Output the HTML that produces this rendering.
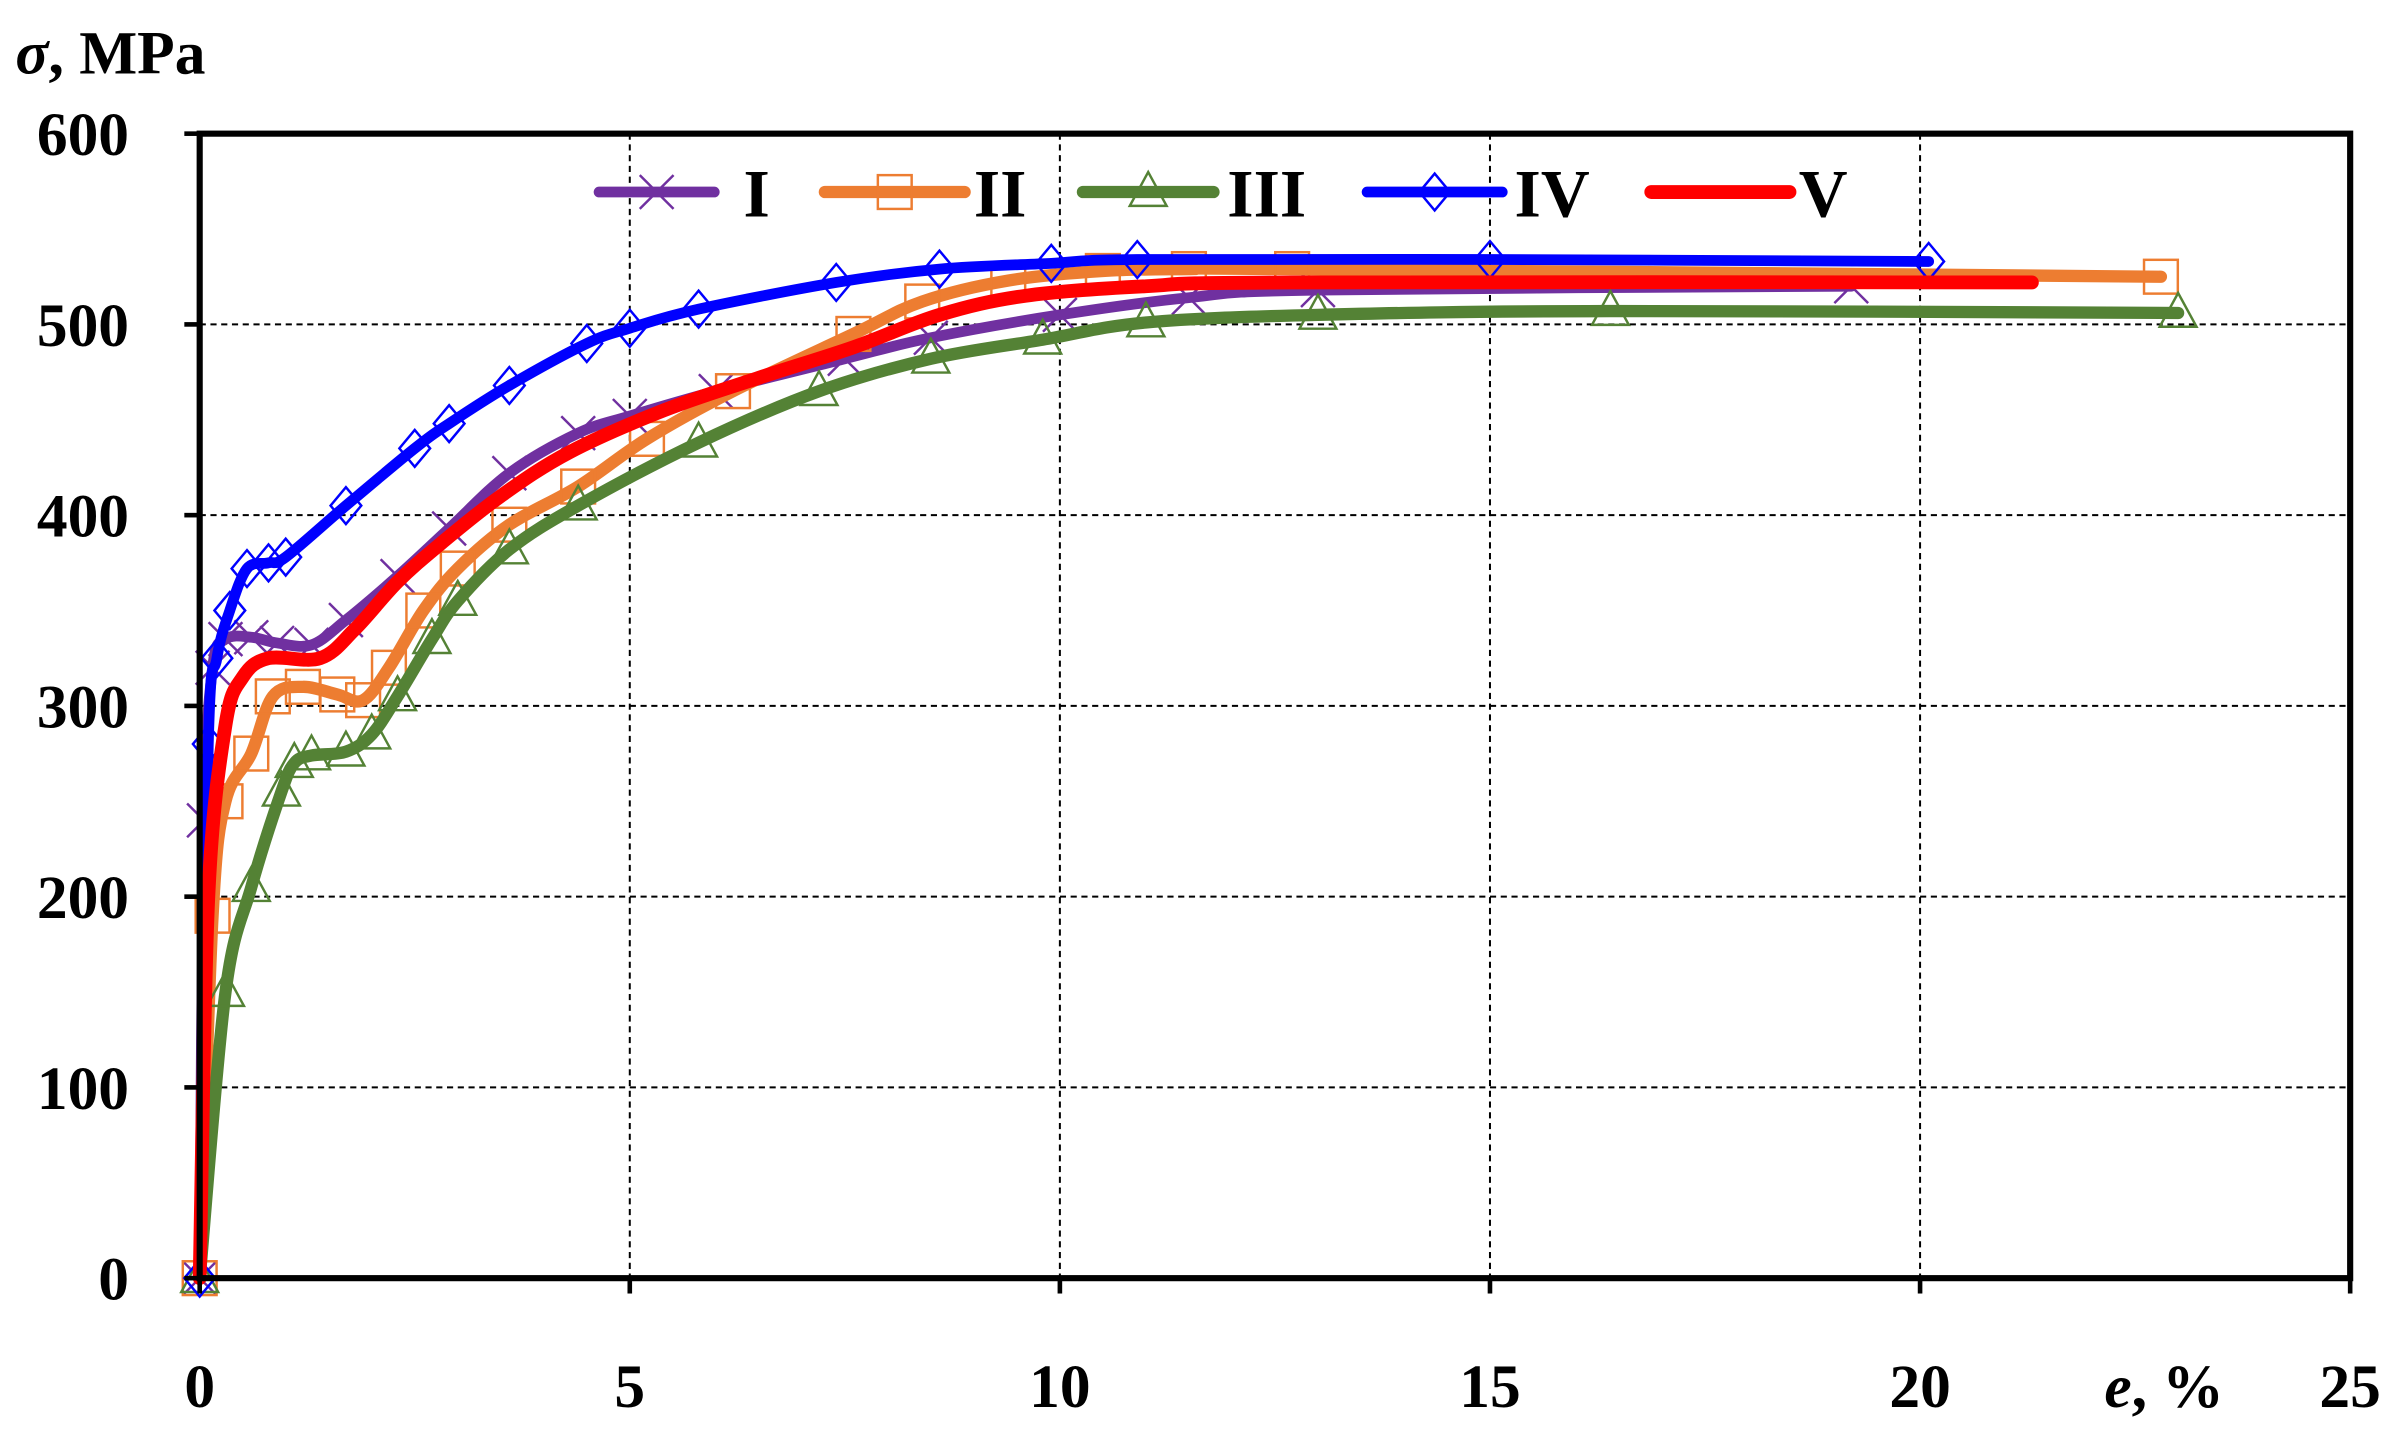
<!DOCTYPE html>
<html><head><meta charset="utf-8"><style>html,body{margin:0;padding:0;background:#fff}svg{display:block}</style></head>
<body>
<svg id="s" width="2407" height="1441" viewBox="0 0 1567 938" preserveAspectRatio="none" xmlns="http://www.w3.org/2000/svg" font-family="'Liberation Serif', serif" font-weight="bold">
<rect width="1567" height="938" fill="#fff"/>
<g id="grid" stroke="#000" stroke-width="1.3" stroke-dasharray="4,3"></g>
<g id="series"></g>
<rect x="130" y="87" width="1400" height="745" fill="none" stroke="#000" stroke-width="4"/>
<g id="ticks" font-size="40" fill="#000"></g>
<text x="10" y="48" font-size="40"><tspan font-style="italic">σ</tspan>, MPa</text>
<text x="1370" y="916" font-size="40" font-style="italic">e<tspan font-style="normal">, %</tspan></text>
<g id="legend" font-size="44"></g>
</svg>
<script>
const NS="http://www.w3.org/2000/svg";
const X=e=>130+e*56, Y=s=>832-s*745/600;
function el(t,a,p){const e=document.createElementNS(NS,t);for(const k in a)e.setAttribute(k,a[k]);p.appendChild(e);return e;}
const g=document.getElementById('grid'),tk=document.getElementById('ticks');
for(let e=5;e<25;e+=5)el('line',{x1:X(e),y1:87,x2:X(e),y2:832},g);
for(let s=100;s<600;s+=100)el('line',{x1:130,y1:Y(s),x2:1530,y2:Y(s)},g);
for(let e=0;e<=25;e+=5){el('text',{x:X(e),y:916,'text-anchor':'middle'},tk).textContent=e;el('line',{x1:X(e),y1:832,x2:X(e),y2:842,stroke:'#000','stroke-width':3},tk);}
for(let s=0;s<=600;s+=100){el('text',{x:84,y:Y(s)+14,'text-anchor':'end'},tk).textContent=s;el('line',{x1:120,y1:Y(s),x2:130,y2:Y(s),stroke:'#000','stroke-width':3},tk);}
const S=[
{c:'#7030a0',m:'x',w:7,p:[[0,0],[0.05,240],[0.15,320],[0.3,335],[0.6,336],[0.9,333],[1.3,332],[1.7,345],[2.3,368],[2.9,393],[3.6,422],[4.4,443],[5,452],[6,465],[7.5,482],[8.5,493],[10,505],[11.5,514],[13,518],[19.2,520]]},
{c:'#ed7d31',m:'s',w:8,p:[[0,0],[0.15,190],[0.3,250],[0.6,275],[0.85,305],[1.2,310],[1.6,306],[1.9,303],[2.2,320],[2.6,350],[3.0,372],[3.6,395],[4.4,415],[5.2,440],[6.2,465],[7.6,495],[8.4,512],[9.4,523],[10.5,528],[11.5,529],[12.7,529],[22.8,525]]},
{c:'#548235',m:'t',w:8,p:[[0,0],[0.3,150],[0.6,205],[0.95,255],[1.1,270],[1.3,274],[1.7,276],[2.0,285],[2.3,305],[2.7,335],[3.0,355],[3.6,382],[4.4,405],[5.8,438],[7.2,465],[8.5,482],[9.8,492],[11,501],[13,505],[16.4,507],[23,506]]},
{c:'#0000ff',m:'d',w:7,p:[[0,0],[0.1,280],[0.2,325],[0.35,350],[0.55,372],[0.8,375],[1.0,378],[1.7,405],[2.5,435],[2.9,448],[3.6,468],[4.5,490],[5,498],[5.8,508],[7.4,522],[8.6,529],[9.9,532],[10.9,534],[15,534],[20.1,533]]},
{c:'#ff0000',m:'',w:9,p:[[0,0],[0.1,200],[0.3,290],[0.5,315],[0.8,325],[1.4,325],[1.8,340],[2.3,365],[2.8,385],[3.5,410],[4.3,433],[5.4,455],[6.5,472],[7.6,488],[8.6,505],[9.6,515],[11,520],[12.7,522],[21.3,522]]}];
function marker(m,x,y,c,p){
 if(m=='x'){el('path',{d:`M${x-11} ${y-11}L${x+11} ${y+11}M${x-11} ${y+11}L${x+11} ${y-11}`,stroke:c,'stroke-width':1.6,fill:'none'},p);}
 if(m=='s')el('rect',{x:x-11,y:y-11,width:22,height:22,fill:'none',stroke:c,'stroke-width':1.6},p);
 if(m=='t')el('path',{d:`M${x} ${y-13}L${x+12} ${y+9}L${x-12} ${y+9}Z`,fill:'none',stroke:c,'stroke-width':1.6},p);
 if(m=='d')el('path',{d:`M${x} ${y-12}L${x+10} ${y}L${x} ${y+12}L${x-10} ${y}Z`,fill:'none',stroke:c,'stroke-width':1.6},p);
}
function smooth(pts){let d=`M${pts[0][0]} ${pts[0][1]}`;for(let i=0;i<pts.length-1;i++){const p0=pts[Math.max(0,i-1)],p1=pts[i],p2=pts[i+1],p3=pts[Math.min(pts.length-1,i+2)];const t=1/6;d+=`C${p1[0]+(p2[0]-p0[0])*t} ${p1[1]+(p2[1]-p0[1])*t} ${p2[0]-(p3[0]-p1[0])*t} ${p2[1]-(p3[1]-p1[1])*t} ${p2[0]} ${p2[1]}`;}return d;}
const sg=document.getElementById('series');
S.forEach(s=>{const pts=s.p.map(q=>[X(q[0]),Y(q[1])]);el('path',{d:smooth(pts),fill:'none',stroke:s.c,'stroke-width':s.w,'stroke-linejoin':'round','stroke-linecap':'round'},sg);if(s.m)pts.forEach(q=>marker(s.m,q[0],q[1],s.c,sg));});
const lg=document.getElementById('legend');
const L=[['I',390,465,484],['II',537,628,634],['III',705,790,799],['IV',890,978,986],['V',1075,1165,1171]];
L.forEach((l,i)=>{const s=S[i];el('line',{x1:l[1],y1:125,x2:l[2],y2:125,stroke:s.c,'stroke-width':s.w,'stroke-linecap':'round'},lg);if(s.m)marker(s.m,(l[1]+l[2])/2,125,s.c,lg);el('text',{x:l[3],y:141},lg).textContent=l[0];});
</script>
</body></html>
